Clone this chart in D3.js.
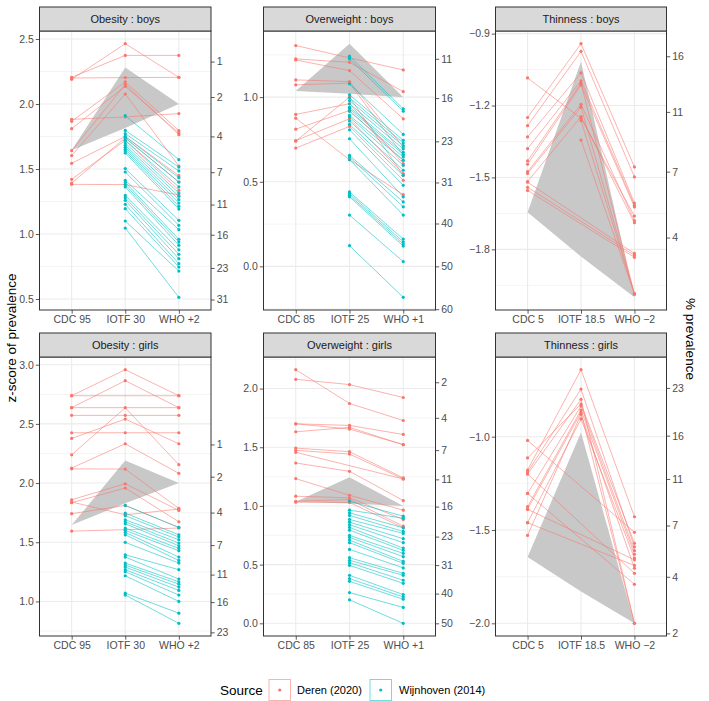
<!DOCTYPE html>
<html>
<head>
<meta charset="utf-8">
<script src="https://cdnjs.cloudflare.com/ajax/libs/d3/7.8.5/d3.min.js"></script>
<style>
  body { margin: 0; background: #fff; }
  text { font-family: "Liberation Sans", Arial, Helvetica, sans-serif; }
</style>
</head>
<body>
<script>
// ---- data ----
let obesityCuts = ['CDC 95', 'IOTF 30', 'WHO +2'];
let overweightCuts = ['CDC 85', 'IOTF 25', 'WHO +1'];
let thinnessCuts = ['CDC 5', 'IOTF 18.5', 'WHO \u22122'];
let prevBreaks = [1, 2, 4, 7, 11, 16, 23, 31, 40, 50, 60];
let sources = ['Deren (2020)', 'Wijnhoven (2014)'];

// Deren: [CDC, IOTF, WHO] per country, z-score
let obBoysDeren = [
  [2.205, 2.374, 2.374], [2.19, 2.464, 2.205], [2.20, 2.203, 2.205], [1.882, 1.90, 1.926],
  [1.867, 2.17, 1.795], [1.81, 2.136, 1.777], [1.641, 2.15, 1.764], [1.603, 2.077, 1.523],
  [1.544, 1.75, 1.449], [1.421, 1.72, 1.336], [1.392, 1.74, 1.40], [1.382, 1.38, 1.30]
];
let obBoysWijIotf = [1.910, 1.797, 1.772, 1.751, 1.738, 1.721, 1.700, 1.682, 1.667, 1.651, 1.638, 1.623,
  1.503, 1.477, 1.413, 1.397, 1.379, 1.362, 1.297, 1.279, 1.259, 1.228, 1.195, 1.100, 1.046];
let obBoysWijWho = [1.572, 1.515, 1.485, 1.433, 1.400, 1.362, 1.315, 1.290, 1.264, 1.238, 1.213, 1.192,
  1.105, 1.067, 1.033, 0.959, 0.938, 0.913, 0.879, 0.844, 0.810, 0.772, 0.746, 0.715, 0.513];
let obBoysRefLo = [1.645, 1.815, 2.0];
let obBoysRefHi = [1.645, 2.28, 2.0];

let owBoysDeren = [
  [1.305, 1.232, 1.161], [1.226, 1.206, 1.033], [1.22, 1.157, 0.872], [1.102, 1.092, 0.705],
  [1.073, 1.083, 0.656], [0.898, 0.961, 0.607], [0.876, 0.63, 0.424], [0.811, 0.921, 0.627],
  [0.743, 0.872, 0.548], [0.74, 1.00, 0.538], [0.699, 0.827, 0.509]
];
let owBoysWijIotf = [1.242, 1.226, 1.079, 1.014, 0.996, 0.980, 0.961, 0.941, 0.931, 0.916, 0.892, 0.882,
  0.859, 0.839, 0.807, 0.754, 0.656, 0.646, 0.631, 0.440, 0.430, 0.420, 0.411, 0.303, 0.122];
let owBoysWijWho = [0.931, 0.917, 0.780, 0.745, 0.729, 0.713, 0.694, 0.674, 0.662, 0.646, 0.627, 0.597,
  0.568, 0.538, 0.479, 0.411, 0.381, 0.352, 0.303, 0.161, 0.145, 0.132, 0.120, 0.028, -0.183];
let owBoysRefLo = [1.036, 1.02, 1.0];
let owBoysRefHi = [1.036, 1.316, 1.0];

let thBoysDeren = [
  [-1.085, -1.253, -1.661], [-1.250, -0.942, -1.456], [-1.284, -0.974, -1.498], [-1.331, -1.064, -1.607],
  [-1.380, -1.097, -1.616], [-1.431, -1.107, -1.986], [-1.445, -1.114, -1.623], [-1.476, -1.195, -1.680],
  [-1.483, -1.207, -1.986], [-1.517, -1.246, -1.689], [-1.541, null, -1.825], [-1.554, null, -1.833],
  [-1.520, null, -1.817], [null, -1.263, -1.986], [null, -1.344, -1.986]
];
let thBoysRefLo = [-1.645, -1.83, -2.0];
let thBoysRefHi = [-1.645, -1.017, -2.0];

let obGirlsDeren = [
  [2.738, 2.958, 2.738], [2.637, 2.865, 2.637], [2.738, null, 2.738], [2.637, null, 2.637],
  [2.572, 2.572, 2.572], [2.425, 2.425, 2.425], [2.377, 2.541, 2.332], [2.239, 2.637, 2.155],
  [2.127, 2.332, 2.082], [2.12, 2.118, 1.786], [1.859, 1.994, 1.769], [1.834, 1.958, 1.673],
  [1.741, 1.811, 1.625], [1.594, 1.606, 1.62], [1.84, 1.732, 1.78]
];
let obGirlsWijIotf = [1.811, 1.746, 1.724, 1.690, 1.673, 1.656, 1.620, 1.600, 1.583, 1.563, 1.499,
  1.394, 1.375, 1.324, 1.307, 1.290, 1.268, 1.251, 1.217, 1.070, 1.054];
let obGirlsWijWho = [1.625, 1.563, 1.544, 1.521, 1.493, 1.470, 1.448, 1.428, 1.375, 1.346, 1.324,
  1.268, 1.189, 1.166, 1.146, 1.121, 1.093, 1.054, 1.000, 0.901, 0.815];
let obGirlsRefLo = [1.645, 1.83, 2.0];
let obGirlsRefHi = [1.645, 2.19, 2.0];

let owGirlsDeren = [
  [2.161, 1.873, 1.728], [2.079, 2.034, 1.924], [1.700, 1.686, 1.609], [1.632, 1.669, 1.522],
  [1.70, 1.655, 1.522], [1.493, 1.462, 1.239], [1.474, 1.442, 1.230], [1.457, null, 1.230],
  [1.366, 1.295, 1.046], [1.233, 1.091, 0.964], [1.083, 1.069, 0.885], [1.040, 1.055, 0.828],
  [1.032, 1.03, 0.814]
];
let owGirlsWijIotf = [1.040, 0.964, 0.941, 0.919, 0.885, 0.862, 0.840, 0.817, 0.794, 0.749, 0.732, 0.709,
  0.687, 0.630, 0.559, 0.537, 0.517, 0.494, 0.409, 0.381, 0.358, 0.262, 0.200];
let owGirlsWijWho = [0.913, 0.896, 0.814, 0.783, 0.766, 0.721, 0.687, 0.641, 0.622, 0.596, 0.568, 0.528,
  0.511, 0.472, 0.426, 0.409, 0.367, 0.341, 0.245, 0.225, 0.205, 0.135, 0.000];
let owGirlsRefLo = [1.036, 1.02, 1.0];
let owGirlsRefHi = [1.036, 1.245, 1.0];

let thGirlsDeren = [
  [-1.020, null, -1.512], [-1.114, -0.825, -1.571], [-1.179, -0.641, -1.429], [-1.189, -0.745, -1.590],
  [-1.200, -0.800, -2.0], [-1.304, -0.836, -1.611], [-1.375, -0.857, -1.630], [-1.389, -0.870, -2.0],
  [-1.461, -0.905, -1.650], [-1.529, -0.880, -1.705], [-1.200, null, -1.732], [-1.304, null, -1.791],
  [-1.389, null, -1.660], [-1.461, null, -1.690]
];
let thGirlsRefLo = [-1.645, -1.83, -2.0];
let thGirlsRefHi = [-1.645, -0.978, -2.0];

let panels = [
  { title: 'Obesity : boys', cats: obesityCuts, deren: obBoysDeren, wijIotf: obBoysWijIotf, wijWho: obBoysWijWho, refLo: obBoysRefLo, refHi: obBoysRefHi, ticks: [0.5, 1, 1.5, 2, 2.5], tail: 'upper' },
  { title: 'Overweight : boys', cats: overweightCuts, deren: owBoysDeren, wijIotf: owBoysWijIotf, wijWho: owBoysWijWho, refLo: owBoysRefLo, refHi: owBoysRefHi, ticks: [0, 0.5, 1], tail: 'upper' },
  { title: 'Thinness : boys', cats: thinnessCuts, deren: thBoysDeren, wijIotf: [], wijWho: [], refLo: thBoysRefLo, refHi: thBoysRefHi, ticks: [-1.8, -1.5, -1.2, -0.9], tail: 'lower' },
  { title: 'Obesity : girls', cats: obesityCuts, deren: obGirlsDeren, wijIotf: obGirlsWijIotf, wijWho: obGirlsWijWho, refLo: obGirlsRefLo, refHi: obGirlsRefHi, ticks: [1, 1.5, 2, 2.5, 3], tail: 'upper' },
  { title: 'Overweight : girls', cats: overweightCuts, deren: owGirlsDeren, wijIotf: owGirlsWijIotf, wijWho: owGirlsWijWho, refLo: owGirlsRefLo, refHi: owGirlsRefHi, ticks: [0, 0.5, 1, 1.5, 2], tail: 'upper' },
  { title: 'Thinness : girls', cats: thinnessCuts, deren: thGirlsDeren, wijIotf: [], wijWho: [], refLo: thGirlsRefLo, refHi: thGirlsRefHi, ticks: [-2, -1.5, -1], tail: 'lower' }
];

// ---- layout ----
let width = 709, height = 701;
let cols = [[39.5, 211], [263.5, 435.5], [495.5, 666.5]];
let rows = [{ strip: 7, top: 31, bottom: 310 }, { strip: 333, top: 357, bottom: 636 }];
let red = '#F8766D', teal = '#00BFC4';
let font = '"Liberation Sans", Arial, Helvetica, sans-serif';

// inverse normal cdf (Acklam), for the % prevalence axis
function qnorm(p) {
  let a = [-39.69683028665376, 220.9460984245205, -275.9285104469687, 138.3577518672690, -30.66479806614716, 2.506628277459239];
  let b = [-54.47609879822406, 161.5858368580409, -155.6989798598866, 66.80131188771972, -13.28068155288572];
  let c = [-0.007784894002430293, -0.3223964580411365, -2.400758277161838, -2.549671492253500, 4.374664141464968, 2.938163982698783];
  let d = [0.007784695709041462, 0.3224671290700398, 2.445134137142996, 3.754408661907416];
  let pl = 0.02425, q, r;
  if (p < pl) {
    q = Math.sqrt(-2 * Math.log(p));
    return (((((c[0]*q+c[1])*q+c[2])*q+c[3])*q+c[4])*q+c[5]) / ((((d[0]*q+d[1])*q+d[2])*q+d[3])*q+1);
  }
  if (p > 1 - pl) {
    q = Math.sqrt(-2 * Math.log(1 - p));
    return -(((((c[0]*q+c[1])*q+c[2])*q+c[3])*q+c[4])*q+c[5]) / ((((d[0]*q+d[1])*q+d[2])*q+d[3])*q+1);
  }
  q = p - 0.5; r = q * q;
  return (((((a[0]*r+a[1])*r+a[2])*r+a[3])*r+a[4])*r+a[5])*q / (((((b[0]*r+b[1])*r+b[2])*r+b[3])*r+b[4])*r+1);
}

let svg = d3.select('body').append('svg')
  .attr('width', width)
  .attr('height', height)
  .style('background', '#fff');

let styleAxis = sel => {
  sel.select('.domain').remove();
  sel.selectAll('.tick line').attr('stroke', '#333').attr('stroke-width', 0.8);
  sel.selectAll('.tick text').attr('fill', '#4D4D4D').style('font-size', '10.5px').style('font-family', font);
};

panels.forEach((p, i) => {
  let [x0, x1] = cols[i % 3];
  let r = rows[Math.floor(i / 3)];
  let all = [...p.deren.flat(), ...p.wijIotf, ...p.wijWho, ...p.refLo, ...p.refHi].filter(v => v != null);
  let [mn, mx] = d3.extent(all);
  let pad = (mx - mn) * 0.05;
  let y = d3.scaleLinear().domain([mn - pad, mx + pad]).range([r.bottom, r.top]);
  let x = d3.scalePoint().domain(p.cats).range([x0, x1]).padding(0.6);
  let dom = y.domain();
  let g = svg.append('g');

  // grid
  let step = p.ticks[1] - p.ticks[0];
  let minors = d3.range(p.ticks[0] - step / 2, dom[1], step).filter(v => v > dom[0] && v < dom[1]);
  g.selectAll('.minor').data(minors).enter().append('line')
    .attr('x1', x0).attr('x2', x1).attr('y1', d => y(d)).attr('y2', d => y(d))
    .attr('stroke', '#EBEBEB').attr('stroke-width', 0.55);
  g.selectAll('.major').data(p.ticks).enter().append('line')
    .attr('x1', x0).attr('x2', x1).attr('y1', d => y(d)).attr('y2', d => y(d))
    .attr('stroke', '#EBEBEB').attr('stroke-width', 1.07);
  g.selectAll('.vgrid').data(p.cats).enter().append('line')
    .attr('x1', d => x(d)).attr('x2', d => x(d)).attr('y1', r.top).attr('y2', r.bottom)
    .attr('stroke', '#EBEBEB').attr('stroke-width', 1.07);

  // reference band
  let band = p.refLo.map((v, j) => ({ c: p.cats[j], lo: v, hi: p.refHi[j] }));
  g.append('path').datum(band)
    .attr('d', d3.area().x(d => x(d.c)).y0(d => y(d.lo)).y1(d => y(d.hi)))
    .attr('fill', '#C8C8C8');

  let line = d3.line().x(d => x(d.c)).y(d => y(d.v));
  let derenPts = p.deren.map(row => row.map((v, j) => ({ c: p.cats[j], v })).filter(d => d.v != null));
  let wijPts = p.wijIotf.map((v, k) => [{ c: p.cats[1], v }, { c: p.cats[2], v: p.wijWho[k] }]);

  g.selectAll('.lred').data(derenPts).enter().append('path')
    .attr('d', line).attr('fill', 'none').attr('stroke', red)
    .attr('stroke-opacity', 0.7).attr('stroke-width', 0.8);
  g.selectAll('.lteal').data(wijPts).enter().append('path')
    .attr('d', line).attr('fill', 'none').attr('stroke', teal)
    .attr('stroke-opacity', 0.7).attr('stroke-width', 0.8);
  g.selectAll('.pred').data(derenPts.flat()).enter().append('circle')
    .attr('cx', d => x(d.c)).attr('cy', d => y(d.v)).attr('r', 1.6).attr('fill', red);
  g.selectAll('.pteal').data(wijPts.flat()).enter().append('circle')
    .attr('cx', d => x(d.c)).attr('cy', d => y(d.v)).attr('r', 1.6).attr('fill', teal);

  // border + strip
  g.append('rect').attr('x', x0).attr('y', r.top).attr('width', x1 - x0).attr('height', r.bottom - r.top)
    .attr('fill', 'none').attr('stroke', '#333').attr('stroke-width', 1);
  g.append('rect').attr('x', x0).attr('y', r.strip).attr('width', x1 - x0).attr('height', r.top - r.strip)
    .attr('fill', '#D9D9D9').attr('stroke', '#333').attr('stroke-width', 1);
  g.append('text').attr('x', (x0 + x1) / 2).attr('y', (r.strip + r.top) / 2).attr('dy', '0.35em')
    .attr('text-anchor', 'middle').attr('fill', '#1A1A1A').style('font-size', '11px').text(p.title);

  // axes
  g.append('g').attr('transform', `translate(${x0},0)`)
    .call(d3.axisLeft(y).tickValues(p.ticks).tickSize(3.7).tickPadding(2).tickFormat(d3.format('.1f')))
    .call(styleAxis);
  let prevTicks = prevBreaks
    .map(b => ({ b, z: p.tail === 'upper' ? -qnorm(b / 100) : qnorm(b / 100) }))
    .filter(t => t.z >= dom[0] && t.z <= dom[1]);
  g.append('g').attr('transform', `translate(${x1},0)`)
    .call(d3.axisRight(y).tickValues(prevTicks.map(t => t.z)).tickSize(3.7).tickPadding(2)
      .tickFormat((d, k) => prevTicks[k].b))
    .call(styleAxis);
  g.append('g').attr('transform', `translate(0,${r.bottom})`)
    .call(d3.axisBottom(x).tickSize(3.7).tickPadding(2))
    .call(styleAxis);
});

// axis titles
svg.append('text').attr('transform', 'translate(11,338) rotate(-90)')
  .attr('text-anchor', 'middle').attr('dy', '0.35em').style('font-size', '13.5px')
  .text('z-score of prevalence');
svg.append('text').attr('transform', 'translate(691,339) rotate(90)')
  .attr('text-anchor', 'middle').attr('dy', '0.35em').style('font-size', '13.5px')
  .text('% prevalence');

// legend
let legend = svg.append('g');
legend.append('text').attr('x', 220).attr('y', 690).attr('dy', '0.35em')
  .style('font-size', '13.5px').text('Source');
let keyX = [269, 370], labX = [297, 399], keyCol = [red, teal];
sources.forEach((s, k) => {
  legend.append('rect').attr('x', keyX[k]).attr('y', 679.5).attr('width', 21.5).attr('height', 21)
    .attr('fill', '#fff').attr('stroke', keyCol[k]).attr('stroke-opacity', 0.55).attr('stroke-width', 1);
  legend.append('circle').attr('cx', keyX[k] + 10.75).attr('cy', 690).attr('r', 1.6).attr('fill', keyCol[k]);
  legend.append('text').attr('x', labX[k]).attr('y', 690).attr('dy', '0.35em')
    .attr('fill', '#000').style('font-size', '11px').text(s);
});
</script>
</body>
</html>
